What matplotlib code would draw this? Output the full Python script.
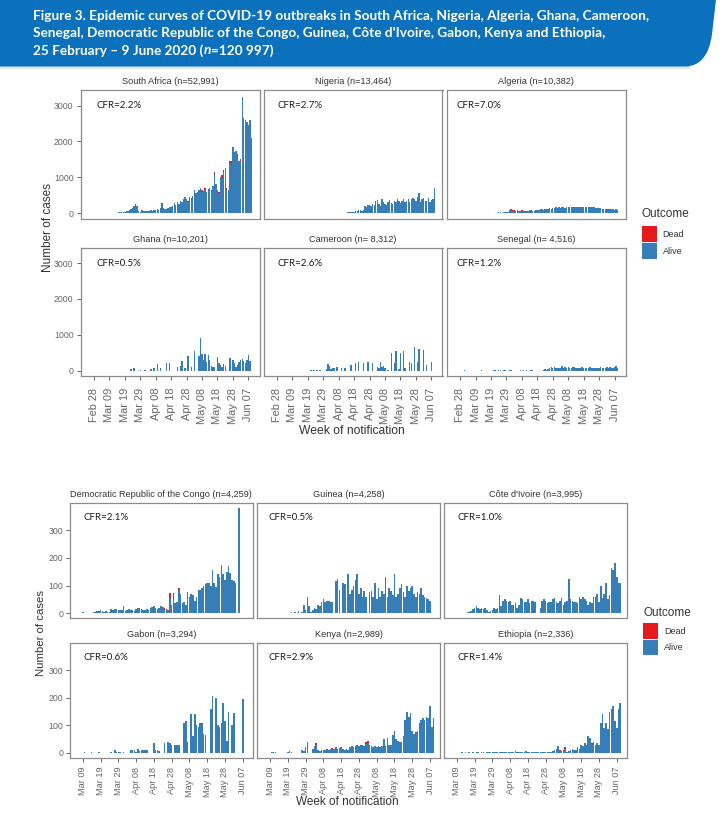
import datetime as dt
import matplotlib
matplotlib.use("Agg")
import matplotlib.pyplot as plt
import matplotlib.dates as mdates
import numpy as np
from matplotlib.patches import Rectangle, PathPatch
from matplotlib.path import Path

# ------------------------------------------------------------------ data
# daily notified cases (total), first value is on the *_start date
sa_start = "2020-03-05"
sa_cases = [1, 1, 1, 3, 1, 3, 6,
            3, 7, 12, 20, 25, 20, 30,
            35, 50, 60, 80, 128, 150, 200,
            250, 210, 60, 40, 80, 50, 60,
            50, 70, 50, 80, 60, 100, 90,
            120, 100, 130, 270, 150, 120, 110,
            150, 160, 180, 200, 280, 220, 300,
            250, 330, 300, 400, 440, 380, 350,
            450, 420, 480, 650, 560, 600, 640,
            700, 650, 620, 700, 600, 680, 700,
            650, 750, 1150, 800, 650, 600, 1000,
            1050, 1200, 1250, 700, 650, 1450, 1450,
            1840, 1700, 1720, 1650, 1450, 1500, 3250,
            2650, 2600, 2550, 2450, 2600, 2100]
sa_dead_dates = ["2020-04-12", "2020-04-29", "2020-05-01", "2020-05-08", "2020-05-10",
                 "2020-05-12", "2020-05-14", "2020-05-16", "2020-05-19", "2020-05-21",
                 "2020-05-22", "2020-05-24", "2020-05-26", "2020-05-27", "2020-05-31",
                 "2020-06-02"]
sa_dead = [20, 30, 40, 50, 60, 40, 50, 60, 40, 70, 60, 50, 60, 80, 50, 40]

ng_start = "2020-03-30"
ng_cases = [12, 0, 0, 14, 0, 12, 0,
            0, 15, 0, 0, 0, 0, 0,
            0, 20, 30, 25, 40, 35, 60,
            50, 80, 100, 70, 90, 200, 180,
            220, 240, 200, 250, 230, 350, 370,
            250, 200, 380, 300, 250, 230, 300,
            370, 280, 250, 330, 300, 400, 350,
            280, 330, 380, 300, 350, 400, 320,
            380, 420, 380, 350, 450, 575, 300,
            400, 420, 330, 350, 410, 300, 360,
            380, 690]
ng_dead_dates = ["2020-04-02", "2020-04-07", "2020-05-03", "2020-05-30"]
ng_dead = [6, 6, 15, 20]

dz_start = "2020-03-21"
dz_cases = [10, 15, 10, 20, 25, 15, 20,
            30, 25, 30, 100, 110, 90, 80,
            60, 90, 70, 60, 80, 70, 60,
            70, 65, 80, 75, 70, 60, 80,
            90, 100, 110, 120, 100, 110, 120,
            120, 130, 120, 130, 140, 160, 150,
            160, 150, 170, 165, 150, 170, 175,
            180, 170, 175, 165, 180, 170, 175,
            180, 170, 175, 165, 170, 180, 170,
            165, 170, 160, 150, 155, 140, 130,
            120, 125, 115, 120, 110, 105, 115,
            110, 100, 105, 100]
dz_dead_dates = ["2020-03-31", "2020-04-01", "2020-04-02", "2020-04-03", "2020-04-04",
                 "2020-04-05", "2020-04-06", "2020-04-07", "2020-04-08", "2020-04-09",
                 "2020-04-10"]
dz_dead = [25, 30, 20, 15, 12, 20, 15, 12, 15, 10, 10]

gh_start = "2020-03-23"
gh_cases = [40, 0, 60, 0, 0, 0, 30,
            0, 0, 30, 0, 0, 0, 50,
            0, 80, 0, 180, 0, 60, 0,
            0, 0, 200, 0, 210, 0, 0,
            0, 0, 100, 0, 130, 270, 0,
            80, 0, 400, 0, 100, 0, 550,
            0, 0, 400, 920, 450, 300, 450,
            250, 440, 300, 120, 100, 90, 0,
            380, 200, 150, 100, 180, 120, 0,
            0, 350, 0, 300, 200, 100, 150,
            250, 300, 320, 280, 200, 300, 440,
            280, 0]
gh_dead_dates = []
gh_dead = []

cm_start = "2020-03-21"
cm_cases = [20, 0, 30, 0, 20, 0, 30,
            0, 0, 0, 50, 180, 120, 40,
            80, 60, 0, 100, 0, 0, 80,
            0, 60, 0, 0, 0, 150, 0,
            0, 200, 0, 230, 0, 0, 200,
            0, 0, 250, 0, 0, 200, 0,
            0, 100, 60, 250, 100, 120, 80,
            0, 30, 0, 480, 0, 200, 550,
            0, 40, 500, 0, 550, 60, 0,
            0, 250, 200, 0, 650, 0, 230,
            600, 0, 0, 580, 0, 150, 0,
            0, 250, 0]
cm_dead_dates = []
cm_dead = []

sn_start = "2020-03-02"
sn_cases = [15, 0, 0, 0, 0, 0, 0,
            0, 0, 0, 0, 15, 0, 0,
            0, 0, 0, 0, 0, 15, 18,
            0, 20, 15, 0, 15, 20, 0,
            0, 18, 15, 0, 0, 0, 0,
            0, 15, 0, 20, 0, 18, 0,
            0, 20, 15, 0, 0, 0, 0,
            0, 0, 30, 40, 30, 35, 60,
            100, 70, 110, 60, 80, 70, 60,
            140, 80, 100, 70, 90, 80, 60,
            90, 100, 80, 70, 80, 60, 90,
            80, 60, 70, 80, 90, 70, 80,
            60, 70, 80, 80, 90, 70, 80,
            80, 90, 80, 90, 70, 80, 90,
            130, 80]
sn_dead_dates = []
sn_dead = []

cd_start = "2020-03-09"
cd_cases = [3, 0, 2, 0, 0, 0, 5,
            5, 8, 6, 10, 8, 5, 6,
            3, 5, 15, 12, 15, 14, 10,
            12, 10, 25, 8, 10, 15, 12,
            10, 8, 15, 20, 18, 15, 12,
            10, 15, 12, 20, 22, 25, 18,
            15, 20, 25, 22, 18, 15, 12,
            72, 30, 72, 35, 40, 92, 70,
            35, 40, 30, 75, 60, 70, 65,
            45, 60, 85, 85, 90, 100, 105,
            108, 110, 100, 155, 110, 95, 140,
            130, 175, 140, 120, 150, 170, 145,
            120, 115, 110, 0, 380]
cd_dead_dates = ["2020-04-24", "2020-04-25", "2020-04-26", "2020-04-27", "2020-04-29",
                 "2020-05-02", "2020-05-08"]
cd_dead = [6, 5, 4, 18, 20, 8, 4]

gn_start = "2020-03-09"
gn_cases = [2, 0, 0, 0, 0, 0, 2,
            0, 0, 2, 0, 0, 3, 2,
            3, 0, 8, 0, 5, 30, 10,
            60, 25, 5, 10, 20, 15, 30,
            25, 40, 50, 40, 45, 45, 40,
            40, 0, 115, 125, 85, 0, 110,
            105, 0, 140, 70, 85, 100, 120,
            140, 70, 90, 60, 80, 60, 0,
            75, 80, 60, 110, 50, 90, 60,
            80, 70, 130, 60, 90, 80, 65,
            140, 60, 70, 90, 105, 75, 60,
            100, 80, 90, 100, 70, 60, 75,
            70, 90, 65, 60, 55, 50, 45]
gn_dead_dates = []
gn_dead = []

ci_start = "2020-03-09"
ci_cases = [2, 2, 0, 0, 0, 0, 5,
            5, 8, 15, 20, 25, 18, 15,
            20, 15, 18, 10, 5, 8, 10,
            20, 15, 18, 65, 25, 45, 50,
            45, 40, 45, 30, 30, 35, 20,
            30, 55, 50, 40, 40, 50, 35,
            45, 45, 40, 0, 0, 20, 45,
            50, 45, 35, 40, 40, 50, 55,
            40, 35, 45, 55, 30, 40, 45,
            125, 50, 45, 40, 40, 35, 60,
            50, 60, 50, 45, 30, 40, 35,
            60, 60, 70, 40, 100, 55, 70,
            110, 50, 65, 165, 155, 180, 130,
            110, 110]
ci_dead_dates = []
ci_dead = []

ga_start = "2020-03-09"
ga_cases = [0, 2, 0, 0, 0, 2, 0,
            0, 0, 2, 0, 0, 0, 0,
            0, 0, 2, 0, 10, 3, 5,
            3, 0, 5, 0, 0, 0, 12,
            10, 12, 5, 15, 8, 10, 12,
            10, 10, 0, 0, 0, 35, 10,
            10, 8, 0, 0, 35, 0, 40,
            35, 30, 0, 30, 30, 30, 0,
            0, 110, 115, 40, 0, 140, 60,
            140, 100, 95, 110, 110, 70, 65,
            0, 0, 160, 205, 0, 200, 100,
            95, 110, 180, 115, 45, 150, 0,
            100, 145, 0, 0, 0, 0, 195]
ga_dead_dates = ["2020-05-15"]
ga_dead = [5]

ke_start = "2020-03-09"
ke_cases = [0, 2, 2, 2, 0, 0, 0,
            0, 0, 0, 5, 8, 5, 0,
            0, 0, 0, 0, 10, 8, 20,
            40, 0, 0, 15, 25, 35, 10,
            8, 10, 12, 10, 15, 12, 15,
            18, 15, 20, 15, 18, 20, 15,
            12, 15, 10, 20, 25, 22, 25,
            28, 25, 30, 30, 25, 40, 45,
            30, 25, 20, 25, 20, 25, 20,
            25, 50, 25, 55, 30, 30, 65,
            80, 50, 45, 40, 40, 60, 120,
            150, 130, 145, 80, 70, 75, 80,
            110, 120, 125, 120, 130, 125, 170,
            95, 125]
ke_dead_dates = ["2020-04-04", "2020-04-10", "2020-04-13", "2020-04-16", "2020-04-20",
                 "2020-04-27", "2020-04-29", "2020-05-02", "2020-05-03", "2020-05-13",
                 "2020-05-18"]
ke_dead = [6, 3, 3, 4, 3, 4, 5, 6, 8, 3, 3]

et_start = "2020-03-09"
et_cases = [0, 0, 0, 2, 0, 2, 0,
            2, 0, 2, 0, 2, 3, 0,
            2, 3, 0, 3, 4, 2, 3,
            5, 3, 4, 2, 5, 3, 4,
            5, 3, 4, 5, 3, 6, 4,
            5, 4, 3, 5, 6, 4, 3,
            3, 2, 4, 5, 3, 4, 3,
            5, 3, 2, 4, 3, 8, 10,
            15, 25, 10, 8, 10, 20, 5,
            8, 10, 15, 10, 12, 20, 15,
            30, 25, 35, 30, 60, 55, 35,
            40, 30, 35, 30, 110, 140, 90,
            110, 85, 150, 160, 170, 115, 90,
            160, 180]
et_dead_dates = ["2020-05-06", "2020-05-09", "2020-05-24"]
et_dead = [2, 6, 2]

top_titles = ["South Africa (n=52,991)", "Nigeria (n=13,464)", "Algeria (n=10,382)",
              "Ghana (n=10,201)", "Cameroon (n= 8,312)", "Senegal (n= 4,516)"]
top_cfr = ["CFR=2.2%", "CFR=2.7%", "CFR=7.0%", "CFR=0.5%", "CFR=2.6%", "CFR=1.2%"]
bot_titles = ["Democratic Republic of the Congo (n=4,259)", "Guinea (n=4,258)",
              "Côte d'Ivoire (n=3,995)", "Gabon (n=3,294)", "Kenya (n=2,989)",
              "Ethiopia (n=2,336)"]
bot_cfr = ["CFR=2.1%", "CFR=0.5%", "CFR=1.0%", "CFR=0.6%", "CFR=2.9%", "CFR=1.4%"]

top_series = [(sa_start, sa_cases, sa_dead_dates, sa_dead),
              (ng_start, ng_cases, ng_dead_dates, ng_dead),
              (dz_start, dz_cases, dz_dead_dates, dz_dead),
              (gh_start, gh_cases, gh_dead_dates, gh_dead),
              (cm_start, cm_cases, cm_dead_dates, cm_dead),
              (sn_start, sn_cases, sn_dead_dates, sn_dead)]
bot_series = [(cd_start, cd_cases, cd_dead_dates, cd_dead),
              (gn_start, gn_cases, gn_dead_dates, gn_dead),
              (ci_start, ci_cases, ci_dead_dates, ci_dead),
              (ga_start, ga_cases, ga_dead_dates, ga_dead),
              (ke_start, ke_cases, ke_dead_dates, ke_dead),
              (et_start, et_cases, et_dead_dates, et_dead)]

top_yticks = [0, 1000, 2000, 3000]
bot_yticks = [0, 100, 200, 300]
top_first_tick = "2020-02-28"
bot_first_tick = "2020-03-09"
n_top_ticks = 11
n_bot_ticks = 10

title_lines = ["Figure 3. Epidemic curves of COVID-19 outbreaks in South Africa, Nigeria, Algeria, Ghana, Cameroon,",
               "Senegal, Democratic Republic of the Congo, Guinea, Côte d'Ivoire, Gabon, Kenya and Ethiopia,"]
title_line3 = ["25 February \u2013 9 June 2020 (", "n", "=120 997)"]

# ------------------------------------------------------------------ style
BLUE = "#377EB8"
RED = "#E41A1C"
BANNER = "#0B71BD"
SANS = ["Liberation Sans", "DejaVu Sans"]
CAL = ["Lato", "DejaVu Sans"]
TXT = "#333333"
TICK = "#666666"

W, H = 727, 822
fig = plt.figure(figsize=(W / 100, H / 100), dpi=100)
fig.patch.set_facecolor("white")


def add_ax(l, t, w, h):
    return fig.add_axes([l / W, 1 - (t + h) / H, w / W, h / H])


def d2n(s):
    return mdates.date2num(dt.date.fromisoformat(s))


def draw_panel(ax, series, title, cfr, xlim, ylim, yticks, xticks, xticklabels,
               show_x, show_y, cfr_dx, h_px, w_px, xlab_size, xpad):
    start, cases, ddates, dvals = series
    d0 = dt.date.fromisoformat(start)
    x = mdates.date2num([d0 + dt.timedelta(days=i) for i in range(len(cases))])
    total = np.array(cases, dtype=float)
    dead = np.zeros_like(total)
    for dd, v in zip(ddates, dvals):
        dead[(dt.date.fromisoformat(dd) - d0).days] += v
    alive = total - dead
    ax.bar(x, alive, width=0.9, color=BLUE, linewidth=0)
    ax.bar(x, dead, bottom=alive, width=0.9, color=RED, linewidth=0)
    ax.set_xlim(*xlim)
    ax.set_ylim(*ylim)
    ax.set_yticks(yticks)
    ax.set_xticks(xticks)
    for sp in ax.spines.values():
        sp.set_color("#8c8c8c")
        sp.set_linewidth(0.9)
    ax.tick_params(axis="both", direction="out", length=3, width=0.7,
                   color="#666666", labelcolor=TICK, labelsize=6.3, pad=2)
    if show_x:
        ax.set_xticklabels(xticklabels, rotation=90, fontfamily=SANS)
        ax.tick_params(axis="x", labelsize=xlab_size, pad=xpad)
    else:
        ax.tick_params(axis="x", bottom=False, labelbottom=False)
    if show_y:
        ax.set_yticklabels([str(v) for v in yticks], fontfamily=SANS)
    else:
        ax.tick_params(axis="y", left=False, labelleft=False)
    ax.text(0.5, 1 + 8.5 / h_px, title, transform=ax.transAxes, ha="center",
            va="center", fontsize=6.6, color=TXT, family=SANS)
    ax.text(cfr_dx / w_px, 1 - 15 / h_px, cfr, transform=ax.transAxes, ha="left",
            va="center", fontsize=7, color="#1a1a1a", family=CAL)


# top group
top_cols = [80.5, 263.5, 446.7]
top_rows = [90.5, 248.0]
tw, th = 179.0, 128.0
txlim = (d2n("2020-02-28") - 8.7, d2n("2020-06-07") + 7.2)
txt0 = d2n(top_first_tick)
txticks = [txt0 + 10 * k for k in range(n_top_ticks)]
txlabels = [mdates.num2date(v).strftime("%b %d") for v in txticks]
top_dx = [16, 14, 10]
for k in range(6):
    r, c = divmod(k, 3)
    ax = add_ax(top_cols[c], top_rows[r], tw, th)
    draw_panel(ax, top_series[k], top_titles[k], top_cfr[k], txlim, (-150, 3420),
               top_yticks, txticks, txlabels, r == 1, c == 0, top_dx[c], th, tw,
               7.9, 5.6)

# bottom group
bot_cols = [70.0, 257.3, 444.0]
bot_rows = [502.7, 642.5]
bw, bh = 182.5, 115.7
bxlim = (d2n("2020-03-09") - 7.2, d2n("2020-06-07") + 5.5)
bxt0 = d2n(bot_first_tick)
bxticks = [bxt0 + 10 * k for k in range(n_bot_ticks)]
bxlabels = [mdates.num2date(v).strftime("%b %d") for v in bxticks]
bot_dx = [13, 11.5, 13]
for k in range(6):
    r, c = divmod(k, 3)
    ax = add_ax(bot_cols[c], bot_rows[r], bw, bh)
    draw_panel(ax, bot_series[k], bot_titles[k], bot_cfr[k], bxlim, (-19, 400),
               bot_yticks, bxticks, bxlabels, r == 1, c == 0, bot_dx[c], bh, bw,
               6.6, 3.0)

# overlay in pixel coordinates
ov = fig.add_axes([0, 0, 1, 1])
ov.set_xlim(0, W)
ov.set_ylim(H, 0)
ov.axis("off")
ov.patch.set_alpha(0)

# banner
verts = [(0, 0), (716, 0), (712, 34), (709, 58), (698, 66), (686, 66.5), (0, 66.5), (0, 0)]
codes = [Path.MOVETO, Path.LINETO, Path.LINETO, Path.CURVE4, Path.CURVE4, Path.CURVE4,
         Path.LINETO, Path.CLOSEPOLY]
ov.add_patch(Rectangle((0, 66), 690, 3, color="#e3e6ea", lw=0))
ov.add_patch(PathPatch(Path(verts, codes), facecolor=BANNER, edgecolor="none"))

renderer = fig.canvas.get_renderer()
fs = 9.0
t1 = ov.text(33, 16, title_lines[0], color="white", fontsize=fs, fontweight="bold",
             family=CAL, ha="left", va="center")
wpx = t1.get_window_extent(renderer).width
fs = fs * 612.0 / wpx
t1.set_fontsize(fs)
ov.text(33, 33, title_lines[1], color="white", fontsize=fs, fontweight="bold",
        family=CAL, ha="left", va="center")
xcur = 33.0
for i, piece in enumerate(title_line3):
    t = ov.text(xcur, 50.5, piece, color="white", fontsize=fs, fontweight="bold",
                family=CAL, ha="left", va="center",
                fontstyle="italic" if i == 1 else "normal")
    xcur += t.get_window_extent(renderer).width

# axis titles
ov.text(48, 227.5, "Number of cases", rotation=90, ha="center", va="center",
        fontsize=8.5, color=TXT, family=SANS)
ov.text(352, 431, "Week of notification", ha="center", va="center",
        fontsize=8.7, color=TXT, family=SANS)
ov.text(40.5, 633, "Number of cases", rotation=90, ha="center", va="center",
        fontsize=8.2, color=TXT, family=SANS)
ov.text(347.5, 801.5, "Week of notification", ha="center", va="center",
        fontsize=8.5, color=TXT, family=SANS)

# legends
ov.text(642, 214, "Outcome", ha="left", va="center", fontsize=8.5, color=TXT, family=SANS)
ov.add_patch(Rectangle((642.3, 225.7), 14.4, 16, color=RED, lw=0))
ov.add_patch(Rectangle((642.3, 243.3), 14.4, 16, color=BLUE, lw=0))
ov.text(662.5, 234, "Dead", ha="left", va="center", fontsize=6.5, color=TXT, family=SANS)
ov.text(662.5, 251.5, "Alive", ha="left", va="center", fontsize=6.5, color=TXT, family=SANS)

ov.text(643, 612.7, "Outcome", ha="left", va="center", fontsize=8.5, color=TXT, family=SANS)
ov.add_patch(Rectangle((643.3, 623.3), 15, 15.2, color=RED, lw=0))
ov.add_patch(Rectangle((643.3, 639.8), 15, 15.2, color=BLUE, lw=0))
ov.text(664, 631, "Dead", ha="left", va="center", fontsize=6.5, color=TXT, family=SANS)
ov.text(664, 647.5, "Alive", ha="left", va="center", fontsize=6.5, color=TXT, family=SANS)

fig.savefig("out.png", dpi=100, facecolor="white")
